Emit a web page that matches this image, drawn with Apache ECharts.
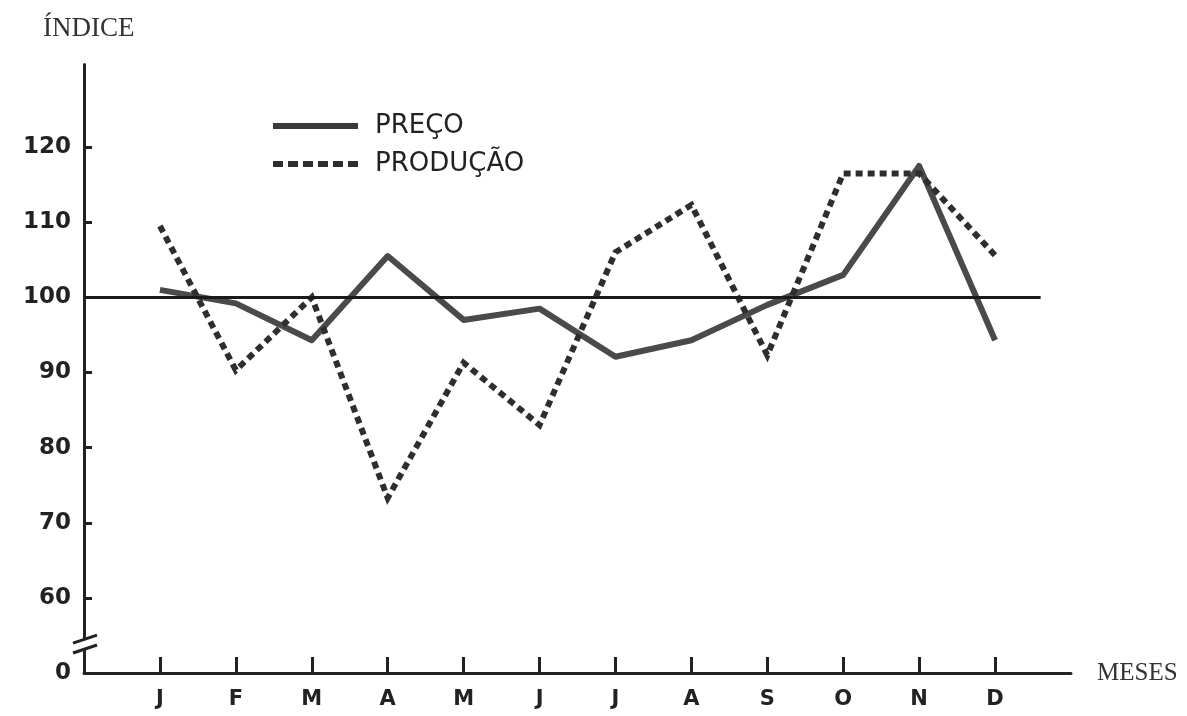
<!DOCTYPE html>
<html>
<head>
<meta charset="utf-8">
<script src="https://cdn.jsdelivr.net/npm/echarts@6/dist/echarts.min.js"></script>
<style>
html,body{margin:0;padding:0;background:#fff;}
#chart{width:1187px;height:716px;}
</style>
</head>
<body>
<div id="chart"></div>
<script>
// ---- data ----
const MONTHS = ['J','F','M','A','M','J','J','A','S','O','N','D'];
const PRECO = [101, 99.2, 94.3, 105.5, 97, 98.5, 92.1, 94.3, 99, 103, 117.5, 94.3];
const PRODUCAO = [109.5, 90.3, 100, 73.3, 91.3, 83, 106, 112.3, 92.3, 116.5, 116.5, 105.6];
const Y_TICKS = [50, 60, 70, 80, 90, 100, 110, 120];   // 50 is shown as "0" (axis break)
const X_TICKS = [1,2,3,4,5,6,7,8,9,10,11,12];
const BASE = 100;

const chart = echarts.init(document.getElementById('chart'), null, {renderer:'canvas'});
const axisColor = '#222';
const labelFont = 'DejaVu Sans';
const serifFont = 'Liberation Serif';

const dashIcon = 'path://M0,0h10v6h-10z M15,0h10v6h-10z M30,0h10v6h-10z M45,0h10v6h-10z M60,0h10v6h-10z M75,0h10v6h-10z';

const option = {
  backgroundColor: '#ffffff',
  animation: false,
  title: {
    text: 'ÍNDICE',
    left: 38, top: 10,
    textStyle: {fontFamily: serifFont, fontSize: 27, fontWeight: 'normal', color: '#333'}
  },
  legend: {
    orient: 'vertical',
    left: 268, top: 107,
    itemWidth: 85, itemHeight: 6, itemGap: 10,
    textStyle: {fontFamily: labelFont, fontSize: 26, color: '#222', lineHeight: 28, padding: [0,0,0,12]},
    data: [
      {name: 'PREÇO', icon: 'rect', itemStyle: {color: '#3a3a3a'}},
      {name: 'PRODUÇÃO', icon: dashIcon, itemStyle: {color: '#2e2e2e'}}
    ]
  },
  grid: {left: 84, right: 116, top: 64.5, bottom: 43},
  xAxis: {
    type: 'value', min: 0, max: 13, interval: 1,
    name: 'MESES', nameLocation: 'end', nameGap: 26,
    nameTextStyle: {fontFamily: serifFont, fontSize: 25, color: '#333', verticalAlign: 'middle'},
    axisLine: {show: true, onZero: false, lineStyle: {color: axisColor, width: 3}},
    axisTick: {show: true, inside: true, length: 16, customValues: X_TICKS, lineStyle: {color: axisColor, width: 3}},
    axisLabel: {
      customValues: X_TICKS, margin: 16,
      fontFamily: labelFont, fontSize: 21, fontWeight: 'bold', color: '#222',
      formatter: v => MONTHS[v - 1] || ''
    },
    splitLine: {show: false}
  },
  yAxis: {
    type: 'value', min: 50, max: 131, interval: 10,
    axisLine: {show: true, onZero: false, lineStyle: {color: axisColor, width: 3}},
    axisTick: {show: true, inside: true, length: 8, customValues: Y_TICKS.slice(1), lineStyle: {color: axisColor, width: 3}},
    axisLabel: {
      customValues: Y_TICKS, margin: 13,
      fontFamily: labelFont, fontSize: 23, fontWeight: 'bold', color: '#222',
      formatter: v => (v === 50 ? '0' : String(v))
    },
    splitLine: {show: false}
  },
  series: [
    {
      name: 'PREÇO', type: 'line', symbol: 'none',
      data: PRECO.map((v, i) => [i + 1, v]),
      lineStyle: {color: '#4a4a4a', width: 6, join: 'round'},
      itemStyle: {color: '#4a4a4a'},
      markLine: {
        silent: true, symbol: 'none', label: {show: false},
        lineStyle: {color: '#1a1a1a', width: 3, type: 'solid'},
        data: [[{coord: [0, BASE]}, {coord: [12.6, BASE]}]]
      },
      z: 3
    },
    {
      name: 'PRODUÇÃO', type: 'line', symbol: 'none',
      data: PRODUCAO.map((v, i) => [i + 1, v]),
      lineStyle: {color: '#2e2e2e', width: 6, type: [7, 5], cap: 'butt', join: 'miter'},
      itemStyle: {color: '#2e2e2e'},
      z: 4
    }
  ]
};
chart.setOption(option);

// axis break marks between 0 and 60
const ax = chart.convertToPixel({xAxisIndex: 0}, 0);
const y1 = chart.convertToPixel({yAxisIndex: 0}, 54.5);
const y2 = chart.convertToPixel({yAxisIndex: 0}, 53.2);
chart.setOption({
  graphic: [
    {type: 'rect', shape: {x: ax - 4, y: y1 + 1, width: 8, height: (y2 - y1) - 2}, style: {fill: '#fff'}, z: 10},
    {type: 'line', shape: {x1: ax - 11, y1: y1 + 4, x2: ax + 13, y2: y1 - 4}, style: {stroke: '#222', lineWidth: 3}, z: 11},
    {type: 'line', shape: {x1: ax - 11, y1: y2 + 4, x2: ax + 13, y2: y2 - 4}, style: {stroke: '#222', lineWidth: 3}, z: 11}
  ]
});
</script>
</body>
</html>
